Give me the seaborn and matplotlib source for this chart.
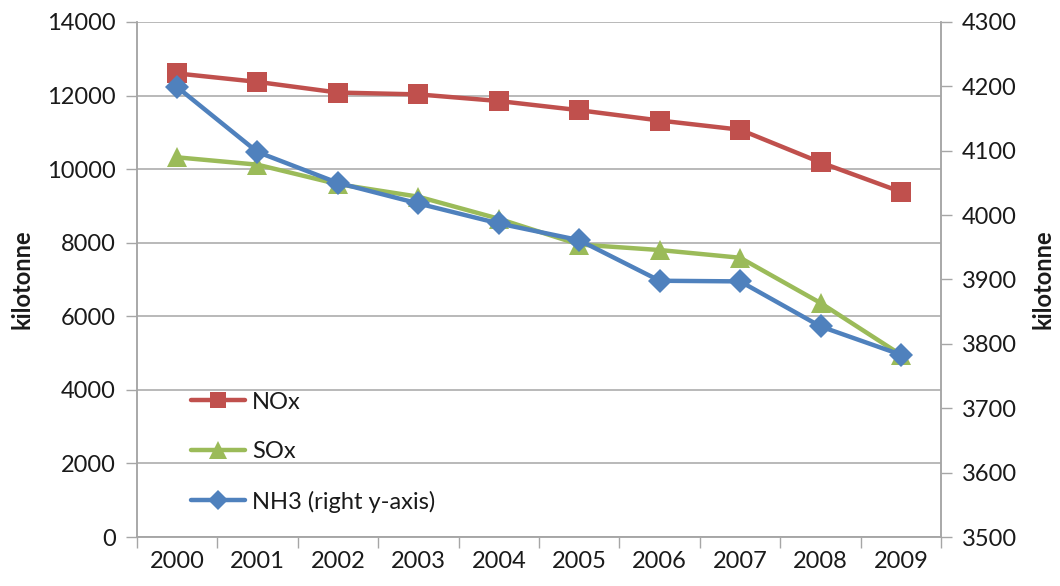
import matplotlib
matplotlib.use("Agg")
import matplotlib.pyplot as plt
import seaborn as sns
import pandas as pd
from matplotlib.ticker import FixedLocator, MultipleLocator

# Emissions, kilotonne
years = [2000, 2001, 2002, 2003, 2004, 2005, 2006, 2007, 2008, 2009]
nox = [12600, 12370, 12080, 12030, 11850, 11600, 11320, 11070, 10180, 9380]
sox = [10320, 10120, 9590, 9250, 8650, 7950, 7800, 7590, 6360, 4950]
nh3 = [4199, 4098, 4050, 4018, 3987, 3961, 3898, 3897, 3827, 3783]

RED = "#C0504D"
GREEN = "#9BBB59"
BLUE = "#4F81BD"
GRID = "#A6A6A6"
TEXT = "#1A1A1A"
FS = 17

sns.set_theme(style="white")
plt.rcParams["font.family"] = ["Lato", "DejaVu Sans"]

df = pd.DataFrame({"year": years, "NOx": nox, "SOx": sox, "NH3": nh3})

fig = plt.figure(figsize=(10.6, 5.86), dpi=100)
ax = fig.add_axes([0.129, 0.0836, 0.759, 0.879])
ax2 = ax.twinx()

lw = 3.2
sns.lineplot(data=df, x="year", y="NOx", ax=ax, color=RED, linewidth=lw,
             marker="s", markersize=14, markeredgewidth=0, label="NOx", legend=False)
sns.lineplot(data=df, x="year", y="SOx", ax=ax, color=GREEN, linewidth=lw,
             marker="^", markersize=15, markeredgewidth=0, label="SOx", legend=False)
sns.lineplot(data=df, x="year", y="NH3", ax=ax2, color=BLUE, linewidth=lw,
             marker="D", markersize=12, markeredgewidth=0,
             label="NH3 (right y-axis)", legend=False)

# Left axis
ax.set_ylim(0, 14000)
ax.yaxis.set_major_locator(MultipleLocator(2000))
ax.set_xlim(years[0] - 0.5, years[-1] + 0.5)
ax.set_xticks(years)
ax.set_xticklabels([str(y) for y in years])
ax.xaxis.set_minor_locator(FixedLocator([y - 0.5 for y in years] + [years[-1] + 0.5]))
ax.tick_params(axis="x", which="major", length=0, pad=10, labelsize=FS, labelcolor=TEXT)
ax.tick_params(axis="x", which="minor", length=8, width=1, color=GRID, direction="out", bottom=True)
ax.tick_params(axis="y", length=8, width=1, color=GRID, direction="out", left=True,
               pad=7, labelsize=FS, labelcolor=TEXT)
ax.yaxis.grid(True, color=GRID, linewidth=1.1)
ax.set_axisbelow(True)
ax.set_xlabel("")
ax.set_ylabel("kilotonne", fontsize=FS, fontweight="bold", color=TEXT, labelpad=10)

# Right axis
ax2.set_ylim(3500, 4300)
ax2.yaxis.set_major_locator(MultipleLocator(100))
ax2.tick_params(axis="y", length=8, width=1, color=GRID, direction="out", right=True,
                pad=7, labelsize=FS, labelcolor=TEXT)
ax2.set_ylabel("kilotonne", fontsize=FS, fontweight="bold", color=TEXT, labelpad=10)
ax2.grid(False)

for a in (ax, ax2):
    a.spines["top"].set_visible(False)
    for s in ("left", "right", "bottom"):
        a.spines[s].set_color(GRID)
        a.spines[s].set_linewidth(1.1)

# Legend inside the plot area, lower left
h1, l1 = ax.get_legend_handles_labels()
h2, l2 = ax2.get_legend_handles_labels()
leg = ax2.legend(h1 + h2, l1 + l2, loc="upper left", bbox_to_anchor=(0.067, 0.282),
                 frameon=False, fontsize=FS, handlelength=2.3, handletextpad=0.3,
                 labelspacing=1.2, borderpad=0, borderaxespad=0, markerscale=0.85)
for t in leg.get_texts():
    t.set_color(TEXT)

fig.savefig("out.png", dpi=100)
